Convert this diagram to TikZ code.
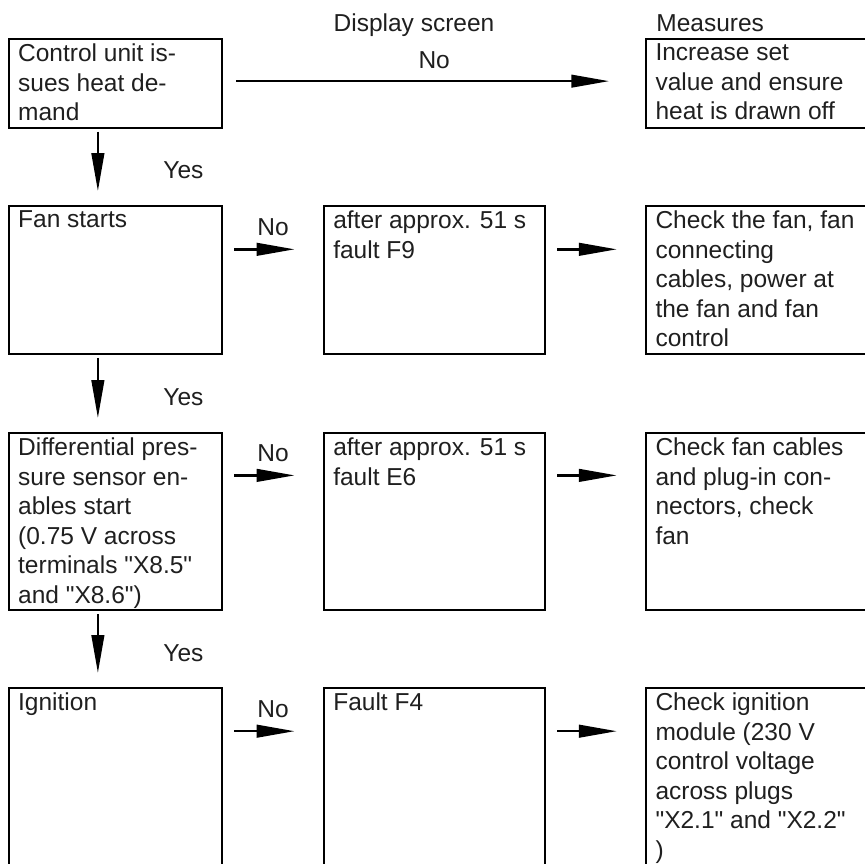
\documentclass[tikz,border=0pt]{standalone}
\usepackage{fontspec}
\newfontfamily\lsans{Liberation Sans}
\usetikzlibrary{arrows.meta}

\begin{document}
\begin{tikzpicture}[
  box/.style={draw, line width=1.6pt},
  txt/.style={anchor=north west, align=left, inner sep=0pt, text=black!88,
    font=\lsans\fontsize{24.5}{29.6}\selectfont},
  lbl/.style={inner sep=0pt, text=black!88, font=\lsans\fontsize{24.5}{29.6}\selectfont},
  arr/.style={line width=2.6pt, -{Triangle[length=38pt,width=12.5pt]}},
  down/.style={arr, shorten <=3pt, shorten >=14pt},
  side/.style={arr, shorten <=0.4cm, shorten >=1cm}]
\useasboundingbox (0,0) rectangle (30.40,-30.33);
\clip (0,0) rectangle (30.40,-30.33);

% column headings
\node (Disp) at (11.72,-1.11) [lbl, anchor=base west]{Display screen};
\node (Meas) at (23.06,-1.11) [lbl, anchor=base west]{Measures};

% row 1
\node (Demand) at (4.06,-2.93) [box, minimum width=7.50cm, minimum height=3.12cm]{};
\node (Demand-2) at (26.71,-2.93) [box, minimum width=8cm, minimum height=3.12cm]{};
\node (Demand-t) at ([xshift=0.35cm,yshift=-0.19cm]Demand.north west) [txt]{Control unit is-\\sues heat de-\\mand};
\node (Demand-2t) at ([xshift=0.35cm,yshift=-0.19cm]Demand-2.north west) [txt]{Increase set\\value and ensure\\heat is drawn off};

% row 2
\node (Fan) at (4.06,-9.84) [box, minimum width=7.50cm, minimum height=5.20cm]{};
\node (Fan-1) at (15.27,-9.84) [box, minimum width=7.77cm, minimum height=5.20cm]{};
\node (Fan-2) at (26.71,-9.84) [box, minimum width=8cm, minimum height=5.20cm]{};
\node (Fan-t) at ([xshift=0.35cm,yshift=-0.19cm]Fan.north west) [txt]{Fan starts};
\node (Fan-1t) at ([xshift=0.35cm,yshift=-0.19cm]Fan-1.north west) [txt]{after approx. 51 s\\fault F9};
\node (Fan-2t) at ([xshift=0.35cm,yshift=-0.19cm]Fan-2.north west) [txt]{Check the fan, fan\\connecting\\cables, power at\\the fan and fan\\control};

% row 3
\node (Sensor) at (4.06,-18.33) [box, minimum width=7.50cm, minimum height=6.23cm]{};
\node (Sensor-1) at (15.27,-18.33) [box, minimum width=7.77cm, minimum height=6.23cm]{};
\node (Sensor-2) at (26.71,-18.33) [box, minimum width=8cm, minimum height=6.23cm]{};
\node (Sensor-t) at ([xshift=0.35cm,yshift=-0.19cm]Sensor.north west) [txt]{Differential pres-\\sure sensor en-\\ables start\\(0.75 V across\\terminals "X8.5"\\and "X8.6")};
\node (Sensor-1t) at ([xshift=0.35cm,yshift=-0.19cm]Sensor-1.north west) [txt]{after approx. 51 s\\fault E6};
\node (Sensor-2t) at ([xshift=0.35cm,yshift=-0.19cm]Sensor-2.north west) [txt]{Check fan cables\\and plug-in con-\\nectors, check\\fan};

% row 4
\node (Ign) at (4.06,-27.49) [box, minimum width=7.50cm, minimum height=6.63cm]{};
\node (Ign-1) at (15.27,-27.49) [box, minimum width=7.77cm, minimum height=6.63cm]{};
\node (Ign-2) at (26.71,-27.49) [box, minimum width=8cm, minimum height=6.63cm]{};
\node (Ign-t) at ([xshift=0.35cm,yshift=-0.19cm]Ign.north west) [txt]{Ignition};
\node (Ign-1t) at ([xshift=0.35cm,yshift=-0.19cm]Ign-1.north west) [txt]{Fault F4};
\node (Ign-2t) at ([xshift=0.35cm,yshift=-0.19cm]Ign-2.north west) [txt]{Check ignition\\module (230 V\\control voltage\\across plugs\\"X2.1" and "X2.2"\\)};

% Yes arrows
\draw [down]([xshift=-0.62cm]Demand.south) -- node[lbl, right=2.26cm, yshift=-0.13cm]{Yes} ([xshift=-0.62cm]Fan.north);
\draw [down]([xshift=-0.62cm]Fan.south) -- node[lbl, right=2.26cm, yshift=-0.13cm]{Yes} ([xshift=-0.62cm]Sensor.north);
\draw [down]([xshift=-0.62cm]Sensor.south) -- node[lbl, right=2.26cm, yshift=-0.13cm]{Yes} ([xshift=-0.62cm]Ign.north);

% No arrows
\draw [arr, shorten <=0.46cm, shorten >=1.27cm]([yshift=-1.51cm]Demand.north east) -- node[lbl, above=0.39cm]{No} ([yshift=-1.51cm]Demand-2.north west);
\draw [side]([yshift=-1.55cm]Fan.north east) -- node[lbl, above=0.43cm]{No} ([yshift=-1.55cm]Fan-1.north west);
\draw [side]([yshift=-1.52cm]Sensor.north east) -- node[lbl, above=0.43cm]{No} ([yshift=-1.52cm]Sensor-1.north west);
\draw [side]([yshift=-1.55cm]Ign.north east) -- node[lbl, above=0.43cm]{No} ([yshift=-1.55cm]Ign-1.north west);

\draw [side]([yshift=-1.55cm]Fan-1.north east) -- ([yshift=-1.55cm]Fan-2.north west);
\draw [side]([yshift=-1.52cm]Sensor-1.north east) -- ([yshift=-1.52cm]Sensor-2.north west);
\draw [side]([yshift=-1.55cm]Ign-1.north east) -- ([yshift=-1.55cm]Ign-2.north west);

\end{tikzpicture}
\end{document}
